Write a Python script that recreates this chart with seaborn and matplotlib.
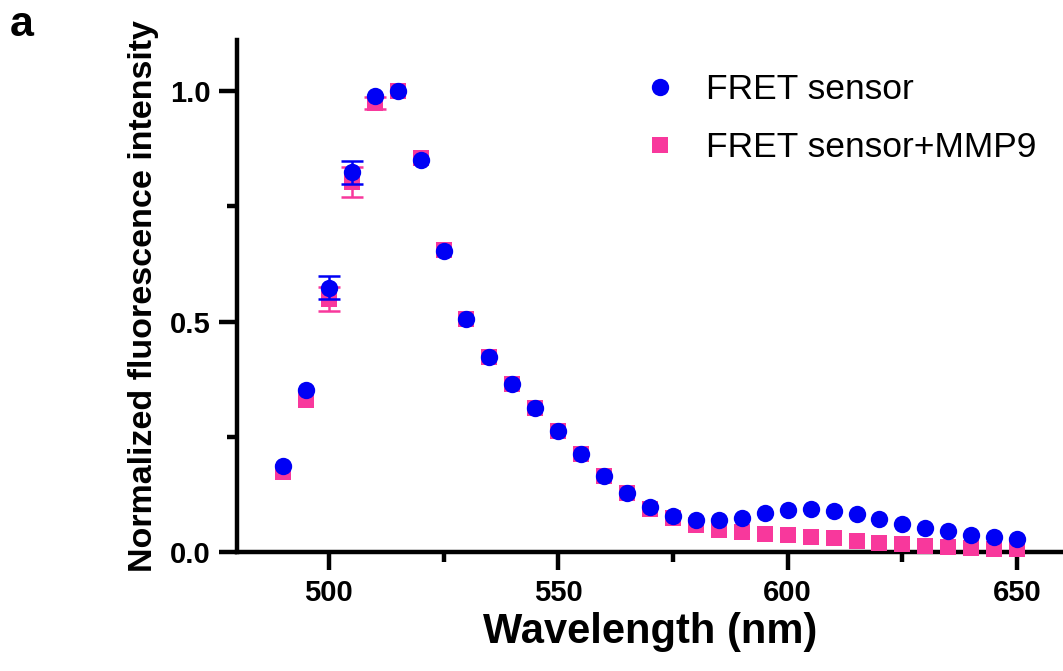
import numpy as np
import pandas as pd
import matplotlib
matplotlib.use("Agg")
import matplotlib.pyplot as plt
from matplotlib.lines import Line2D
import seaborn as sns

wavelength = [490, 495, 500, 505, 510, 515, 520, 525, 530, 535, 540, 545, 550,
              555, 560, 565, 570, 575, 580, 585, 590, 595, 600, 605, 610, 615,
              620, 625, 630, 635, 640, 645, 650]
fret = [0.186, 0.351, 0.573, 0.824, 0.989, 0.999, 0.850, 0.654, 0.505, 0.423,
        0.364, 0.312, 0.263, 0.214, 0.166, 0.128, 0.098, 0.078, 0.069, 0.069,
        0.074, 0.084, 0.092, 0.094, 0.090, 0.083, 0.073, 0.062, 0.053, 0.045,
        0.037, 0.032, 0.028]
fret_sd = [0.0, 0.0, 0.025, 0.025, 0.0, 0.0, 0.0, 0.0, 0.0, 0.0,
           0.0, 0.0, 0.0, 0.0, 0.0, 0.0, 0.0, 0.0, 0.0, 0.0,
           0.0, 0.0, 0.0, 0.0, 0.0, 0.0, 0.0, 0.0, 0.0, 0.0,
           0.0, 0.0, 0.0]
fret_mmp9 = [0.173, 0.330, 0.549, 0.803, 0.973, 1.000, 0.854, 0.656, 0.505, 0.423,
             0.364, 0.312, 0.263, 0.214, 0.166, 0.128, 0.094, 0.075, 0.058, 0.049,
             0.044, 0.040, 0.037, 0.033, 0.030, 0.024, 0.020, 0.017, 0.014, 0.011,
             0.009, 0.007, 0.006]
fret_mmp9_sd = [0.0, 0.0, 0.025, 0.032, 0.013, 0.0, 0.0, 0.0, 0.0, 0.0,
                0.0, 0.0, 0.0, 0.0, 0.0, 0.0, 0.0, 0.0, 0.0, 0.0,
                0.0, 0.0, 0.0, 0.0, 0.0, 0.0, 0.0, 0.0, 0.0, 0.0,
                0.0, 0.0, 0.0]
series_names = ["FRET sensor", "FRET sensor+MMP9"]
x_ticks = [500, 550, 600, 650]
y_ticks = [0.0, 0.5, 1.0]
y_tick_labels = ["0.0", "0.5", "1.0"]

BLUE = "#0000F5"
PINK = "#F8389C"

sns.set_theme(style="ticks")
plt.rcParams["font.family"] = ["Liberation Sans", "DejaVu Sans"]
plt.rcParams["text.color"] = "black"
plt.rcParams["axes.labelcolor"] = "black"

fig = plt.figure(figsize=(10.63, 6.71), dpi=100)
ax = fig.add_axes([0.223, 0.177, 0.777, 0.763])

df = pd.DataFrame({"wavelength": wavelength * 2,
                   "intensity": fret + fret_mmp9,
                   "sd": fret_sd + fret_mmp9_sd,
                   "series": [series_names[0]] * len(wavelength) + [series_names[1]] * len(wavelength)})

# pink first (underneath), then blue
styles = {series_names[1]: (PINK, "s", 3.0), series_names[0]: (BLUE, "o", 5.0)}
for name in [series_names[1], series_names[0]]:
    color, marker, z = styles[name]
    sub = df[df["series"] == name]
    eb = sub[sub["sd"] > 0]
    ax.errorbar(eb["wavelength"], eb["intensity"], yerr=eb["sd"], fmt="none",
                ecolor=color, elinewidth=1.8, capsize=8, capthick=1.8, zorder=z,
                clip_on=False)
    sns.scatterplot(data=sub, x="wavelength", y="intensity", color=color,
                    marker=marker, s=(12.5 if marker == "o" else 12.0) ** 2,
                    linewidth=0, ax=ax, zorder=z + 0.5, clip_on=False, legend=False)

ax.set_xlim(480, 660)
ax.set_ylim(0, 1.11)
ax.set_xticks(x_ticks)
ax.set_xticks([525, 575, 625], minor=True)
ax.set_yticks(y_ticks)
ax.set_yticklabels(y_tick_labels)
ax.set_yticks([0.25, 0.75], minor=True)

for side in ["top", "right"]:
    ax.spines[side].set_visible(False)
for side in ["left", "bottom"]:
    ax.spines[side].set_linewidth(3.2)
    ax.spines[side].set_color("black")

ax.tick_params(axis="both", which="major", length=13, width=3.2, colors="black",
               labelsize=21, pad=6)
ax.tick_params(axis="both", which="minor", length=7, width=3.2, colors="black")
for lab in ax.get_xticklabels() + ax.get_yticklabels():
    lab.set_fontweight("bold")

ax.set_xlabel("Wavelength (nm)", fontsize=30, fontweight="bold", labelpad=4, color="black")
ax.set_ylabel("Normalized fluorescence intensity", fontsize=24.5, fontweight="bold",
              labelpad=8, color="black")

handles = [Line2D([0], [0], marker="o", color="none", markerfacecolor=BLUE,
                  markeredgewidth=0, markersize=12.5),
           Line2D([0], [0], marker="s", color="none", markerfacecolor=PINK,
                  markeredgewidth=0, markersize=11)]
leg = ax.legend(handles, series_names, loc="upper left",
                bbox_to_anchor=(0.594, 0.912), bbox_transform=fig.transFigure,
                frameon=False, fontsize=25.5, handlelength=0.8, handletextpad=0.9,
                labelspacing=0.70, borderaxespad=0)
for t in leg.get_texts():
    t.set_color("black")

fig.text(0.009, 0.992, "a", fontsize=31, fontweight="bold", va="top", ha="left", color="black")

fig.savefig("out.png", dpi=100)
